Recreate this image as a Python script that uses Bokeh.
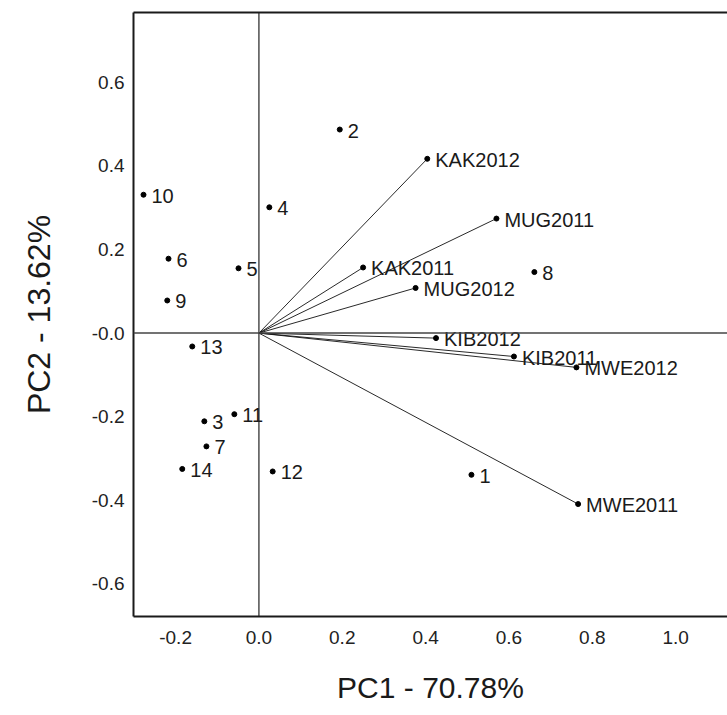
from bokeh.plotting import figure
from bokeh.models import ColumnDataSource, LinearAxis, FixedTicker, Span, Range1d
from bokeh.embed import file_html
from bokeh.resources import INLINE
from bokeh.core.properties import value

# observations (scores)
obs_labels = ["1", "2", "3", "4", "5", "6", "7", "8", "9", "10", "11", "12", "13", "14"]
obs_pc1 = [0.510, 0.194, -0.131, 0.025, -0.049, -0.217, -0.126, 0.661, -0.220, -0.277, -0.059, 0.033, -0.160, -0.184]
obs_pc2 = [-0.339, 0.487, -0.211, 0.301, 0.155, 0.178, -0.271, 0.146, 0.078, 0.331, -0.194, -0.331, -0.032, -0.325]

# variables (loadings)
var_labels = ["KAK2011", "KAK2012", "MUG2011", "MUG2012", "KIB2011", "KIB2012", "MWE2011", "MWE2012"]
var_pc1 = [0.250, 0.404, 0.570, 0.376, 0.612, 0.425, 0.766, 0.762]
var_pc2 = [0.157, 0.417, 0.274, 0.108, -0.056, -0.012, -0.409, -0.082]

x_ticks = [-0.2, 0.0, 0.2, 0.4, 0.6, 0.8, 1.0]
x_tick_labels = ["-0.2", "0.0", "0.2", "0.4", "0.6", "0.8", "1.0"]
y_ticks = [-0.6, -0.4, -0.2, 0.0, 0.2, 0.4, 0.6]
y_tick_labels = ["-0.6", "-0.4", "-0.2", "-0.0", "0.2", "0.4", "0.6"]

x_title = "PC1 - 70.78%"
y_title = "PC2 - 13.62%"

FONT = "Liberation Sans"
INK = "#1a1a1a"

p = figure(width=727, height=715, output_backend="svg", toolbar_location=None,
           x_range=Range1d(-0.301, 1.1245), y_range=Range1d(-0.678, 0.767),
           min_border_left=133, min_border_right=0, min_border_top=12, min_border_bottom=99,
           x_axis_location=None, y_axis_location=None)
p.outline_line_color = None
p.grid.visible = False
p.background_fill_color = "white"
p.border_fill_color = "white"

xaxis = LinearAxis(ticker=FixedTicker(ticks=x_ticks),
                   major_label_overrides={t: s for t, s in zip(x_ticks, x_tick_labels)})
yaxis = LinearAxis(ticker=FixedTicker(ticks=y_ticks),
                   major_label_overrides={t: s for t, s in zip(y_ticks, y_tick_labels)})
for ax in (xaxis, yaxis):
    ax.major_tick_line_color = None
    ax.minor_tick_line_color = None
    ax.major_tick_out = 0
    ax.major_tick_in = 0
    ax.axis_line_width = 2
    ax.axis_line_color = INK
    ax.major_label_text_font = FONT
    ax.major_label_text_font_size = "19px"
    ax.major_label_text_color = "#222222"
    ax.axis_label_text_font = FONT
    ax.axis_label_text_font_size = "30px"
    ax.axis_label_text_font_style = "normal"
    ax.axis_label_text_color = "#1a1a1a"
xaxis.axis_label = x_title
yaxis.axis_label = y_title
yaxis.axis_label_text_font_size = "32px"
xaxis.major_label_standoff = 14
xaxis.axis_label_standoff = 24
yaxis.major_label_standoff = 9
yaxis.axis_label_standoff = 32
p.add_layout(xaxis, "below")
p.add_layout(yaxis, "left")

top = LinearAxis(ticker=FixedTicker(ticks=[]), axis_line_width=2, axis_line_color=INK,
                 major_tick_line_color=None, minor_tick_line_color=None)
p.add_layout(top, "above")

p.add_layout(Span(location=0, dimension="height", line_color="#222222", line_width=1.2))
p.add_layout(Span(location=0, dimension="width", line_color="#444444", line_width=1.5))

vsrc = ColumnDataSource(dict(x0=[0.0] * len(var_pc1), y0=[0.0] * len(var_pc2),
                             x=var_pc1, y=var_pc2, label=var_labels))
osrc = ColumnDataSource(dict(x=obs_pc1, y=obs_pc2, label=obs_labels))

p.segment(x0="x0", y0="y0", x1="x", y1="y", source=vsrc, line_color="#111111", line_width=0.9)
p.scatter("x", "y", source=vsrc, size=5, color="black")
p.scatter("x", "y", source=osrc, size=5, color="black")

for src in (vsrc, osrc):
    p.text("x", "y", text="label", source=src, x_offset=8, y_offset=1,
           text_font=value(FONT), text_font_size="20px", text_baseline="middle",
           text_align="left", text_color="#1a1a1a")

open("out.html", "w").write(file_html(p, INLINE))
